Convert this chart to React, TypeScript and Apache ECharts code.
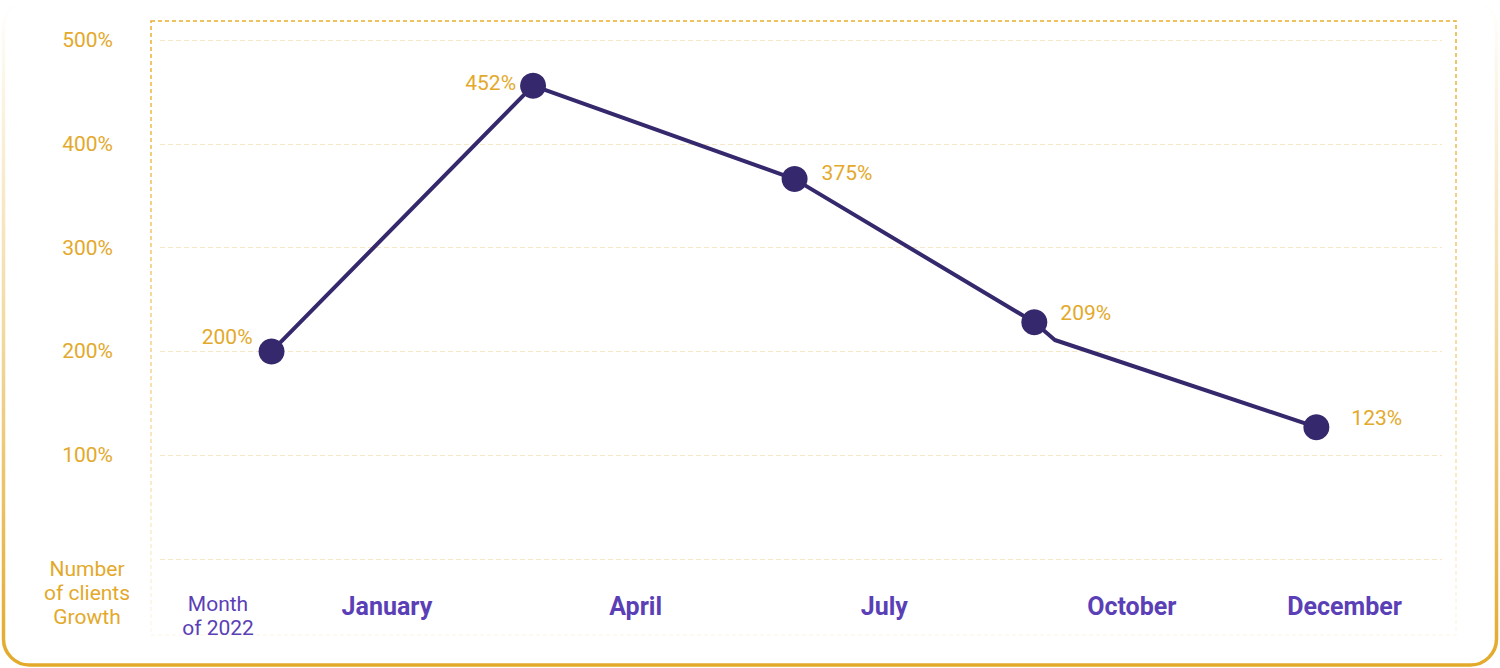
import React, { useEffect, useRef } from "react";
import * as echarts from "echarts";

// Point positions along the month scale (0..100) and growth values
const pointX = [8.7, 29.1, 49.5, 68.2, 69.8, 90.2];
const pointY = [200, 456, 366, 228, 211, 127];
const pointLabels = ["200%", "452%", "375%", "209%", "", "123%"];

// Month labels along the x axis
const monthNames = ["January", "April", "July", "October", "December"];
const monthPos = [17.7, 37.1, 56.5, 75.8, 92.4];

// Y axis ticks
const yTicks = [0, 100, 200, 300, 400, 500];

const GOLD = "#E3A92B";
const PURPLE = "#5A3FB6";
const LINE = "#36286C";

export default function App() {
  const ref = useRef<HTMLDivElement>(null);
  useEffect(() => {
    if (!ref.current) return;
    const chart = echarts.init(ref.current, null, { renderer: "svg" });
    const labelCfg = [
      { position: "left", distance: 6, offset: [0, -14] },
      { position: "left", distance: 4, offset: [0, -3] },
      { position: "right", distance: 14, offset: [0, -6] },
      { position: "right", distance: 13, offset: [0, -9] },
      { show: false },
      { position: "right", distance: 22, offset: [0, -9] },
    ];
    const data = pointX.map((x, i) => ({
      value: [x, pointY[i]],
      symbolSize: pointLabels[i] === "" ? 0 : 26,
      label: {
        show: pointLabels[i] !== "",
        formatter: pointLabels[i],
        ...labelCfg[i],
      },
    }));
    chart.setOption({
      animation: false,
      backgroundColor: "#ffffff",
      textStyle: { fontFamily: "Roboto" },
      grid: { left: 160, right: 58, top: 40, bottom: 109, containLabel: false },
      xAxis: {
        type: "value",
        min: 0,
        max: 100,
        axisLine: { show: false },
        axisTick: { show: false },
        splitLine: { show: false },
        axisLabel: {
          customValues: monthPos,
          margin: 35,
          color: PURPLE,
          fontSize: 25,
          fontWeight: "bold",
          fontFamily: "Roboto",
          formatter: (v: number) => {
            const i = monthPos.indexOf(v);
            return i >= 0 ? monthNames[i] : "";
          },
        },
      },
      yAxis: {
        type: "value",
        min: yTicks[0],
        max: yTicks[yTicks.length - 1],
        interval: 100,
        axisLine: { show: false },
        axisTick: { show: false },
        splitLine: {
          show: true,
          lineStyle: { color: "#F8E7C4", width: 1, type: [5, 3] },
        },
        axisLabel: {
          margin: 47,
          color: GOLD,
          fontSize: 21,
          fontFamily: "Roboto",
          formatter: (v: number) => (v === 0 ? "" : v + "%"),
        },
      },
      graphic: [
        {
          type: "rect",
          z: -10,
          shape: { x: 3.5, y: 1, width: 1493, height: 664, r: 26 },
          style: {
            fill: "none",
            lineWidth: 3.5,
            stroke: new echarts.graphic.LinearGradient(0, 0, 0, 1, [
              { offset: 0, color: "rgba(227,170,42,0)" },
              { offset: 0.5, color: "rgba(227,170,42,0.45)" },
              { offset: 1, color: "#E3AA2A" },
            ]),
          },
        },
        {
          type: "rect",
          z: -10,
          shape: { x: 151, y: 21, width: 1305, height: 614 },
          style: {
            fill: "none",
            lineWidth: 1.5,
            lineDash: [4, 3],
            stroke: new echarts.graphic.LinearGradient(0, 0, 0, 1, [
              { offset: 0, color: "#E9AE2A" },
              { offset: 0.6, color: "rgba(233,174,42,0.5)" },
              { offset: 1, color: "rgba(233,174,42,0.08)" },
            ]),
          },
        },
        {
          type: "text",
          x: 87,
          y: 593,
          style: {
            text: "Number\nof clients\nGrowth",
            align: "center",
            verticalAlign: "middle",
            fontSize: 21,
            lineHeight: 24,
            fontFamily: "Roboto",
            fill: GOLD,
          },
        },
        {
          type: "text",
          x: 218,
          y: 616,
          style: {
            text: "Month\nof 2022",
            align: "center",
            verticalAlign: "middle",
            fontSize: 21,
            lineHeight: 24,
            fontFamily: "Roboto",
            fill: PURPLE,
          },
        },
      ],
      series: [
        {
          type: "line",
          data,
          symbol: "circle",
          showAllSymbol: true,
          lineStyle: { color: LINE, width: 4 },
          itemStyle: { color: LINE },
          label: {
            color: GOLD,
            fontSize: 21,
            fontFamily: "Roboto",
          },
        },
      ],
    });
    return () => chart.dispose();
  }, []);
  return (
    <div
      ref={ref}
      style={{ position: "absolute", left: 0, top: 0, width: 1500, height: 668 }}
    />
  );
}
